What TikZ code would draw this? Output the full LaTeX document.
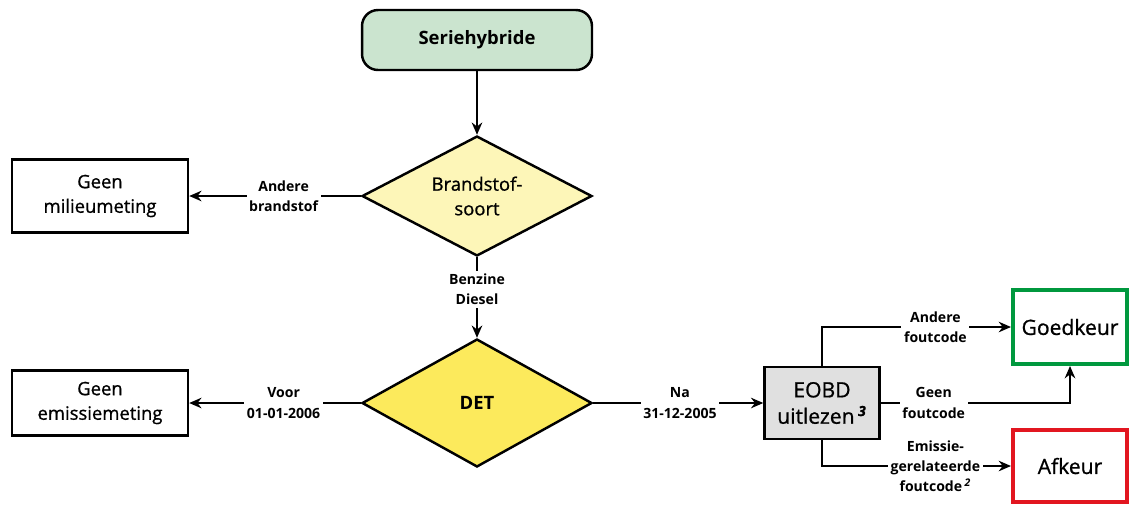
\documentclass[tikz,border=0pt]{standalone}
\usepackage{fontspec}
\setmainfont{Open Sans}
\newfontfamily\semibold[FakeBold=0.9]{Open Sans}
\usetikzlibrary{positioning,arrows.meta,shapes.geometric}

\definecolor{startgreen}{RGB}{203,228,207}
\definecolor{paleyellow}{RGB}{253,246,184}
\definecolor{detyellow}{RGB}{252,234,92}
\definecolor{eobdgray}{RGB}{224,224,224}
\definecolor{okgreen}{RGB}{0,152,62}
\definecolor{badred}{RGB}{226,22,32}

\begin{document}
\begin{tikzpicture}[x=0.02cm,y=-0.02cm,
  box/.style={draw=black, line width=1.4pt, fill=white, align=center,
    inner sep=0pt, font=\semibold\fontsize{10.5}{14}\selectfont},
  choice/.style={diamond, draw=black, line width=1.4pt, align=center,
    inner sep=0pt, minimum width=4.6cm, minimum height=2.4cm, aspect=1.95,
    font=\semibold\fontsize{10.5}{14}\selectfont},
  lbl/.style={fill=white, align=center, inner sep=1.5pt,
    font=\bfseries\fontsize{8}{11.5}\selectfont},
  flow/.style={line width=1.1pt, -{Stealth[length=7pt,width=6pt]}}]
\useasboundingbox (0,0) rectangle (1129,505);

% start and decisions
\node[box, rounded corners=0.32cm, fill=startgreen, minimum width=4.6cm,
  minimum height=1.2cm, font=\bfseries\fontsize{10.5}{14}\selectfont]
  (serie) at (477,40) {Seriehybride};
\node[choice, fill=paleyellow] (soort) at (477,196) {Brandstof-\\soort};
\node[choice, fill=detyellow, minimum height=2.56cm,
  font=\bfseries\fontsize{10.5}{14}\selectfont] (det) at (477,403) {DET};

% left hand boxes
\node[box, minimum width=3.52cm, minimum height=1.46cm] (milieu) at (100,196)
  {Geen\\milieumeting};
\node[box, minimum width=3.52cm, minimum height=1.3cm] (emissie) at (100,403)
  {Geen\\emissiemeting};

% right hand boxes
\node[box, fill=eobdgray, minimum width=2.3cm, minimum height=1.44cm,
  font=\semibold\fontsize{12}{15}\selectfont] (eobd) at (822,403)
  {EOBD\\uitlezen\,\textsuperscript{\textbf{\textit{3}}}};
\node[box, draw=okgreen, line width=2.3pt, minimum width=2.28cm,
  minimum height=1.48cm, font=\semibold\fontsize{12}{15}\selectfont] (goed) at (1070,327)
  {Goedkeur};
\node[box, draw=badred, line width=2.3pt, minimum width=2.28cm,
  minimum height=1.44cm, font=\semibold\fontsize{12}{15}\selectfont] (afkeur) at (1070,466)
  {Afkeur};

% connectors
\draw[flow] (serie) -- (soort);
\draw[flow] (soort.west) -- node[lbl, pos=0.45] {Andere\\brandstof} (milieu);
\draw[flow] (soort.south) -- node[lbl, pos=0.40] {Benzine\\Diesel} (det.north);
\draw[flow] (det.west) -- node[lbl, pos=0.45] {Voor\\01-01-2006} (emissie);
\draw[flow] (det.east) -- node[lbl, pos=0.51] {Na\\31-12-2005} (eobd);
\draw[flow] (eobd.north) |- node[lbl, pos=0.80] {Andere\\foutcode} (goed.west);
\draw[flow] (eobd.east) -| node[lbl, pos=0.14] {Geen\\foutcode} (goed.south);
\draw[flow] (eobd.south) |- node[lbl, pos=0.80]
  {Emissie-\\gerelateerde\\foutcode\,\textsuperscript{\textit{2}}} (afkeur.west);
\end{tikzpicture}
\end{document}
